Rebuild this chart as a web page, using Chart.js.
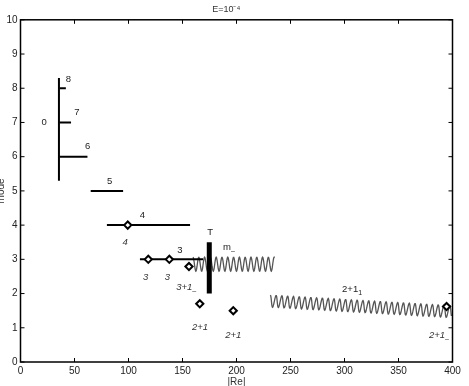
<!DOCTYPE html>
<html>
<head>
<meta charset="utf-8">
<script src="https://cdn.jsdelivr.net/npm/chart.js@4/dist/chart.umd.min.js"></script>
<style>
html, body { margin: 0; padding: 0; background: #fff; }
#wrap { width: 469px; height: 386px; }
</style>
</head>
<body>
<div id="wrap"><canvas id="chart"></canvas></div>
<script>
// horizontal mode segments
const segY  = [8, 7, 6, 5, 4, 3];
const segX1 = [36, 36, 36, 65, 80, 110.6];
const segX2 = [42, 46.8, 62, 95, 157, 169];

// vertical bars (mode 0 stem, T)
const barX  = [35.6, 174.8];
const barY1 = [5.3, 2.0];
const barY2 = [8.3, 3.5];

// diamond points
const diaX = [99.3, 118.3, 137.8, 156, 166, 197, 394.5];
const diaY = [4, 3, 3, 2.79, 1.7, 1.5, 1.62];

// wavy branches: start / end of centre line
const waveX1 = [159.7, 231];
const waveY1 = [2.86, 1.78];
const waveX2 = [235.6, 399.5];
const waveY2 = [2.86, 1.47];

// upright annotations ("_" marks a subscript)
const tagText = ['0', '8', '7', '6', '5', '4', '3', 'T', 'm_\u2013', '2+1_1'];
const tagX    = [22, 44.3, 52.3, 62.2, 82.6, 112.8, 147.7, 175.5, 193, 307];
const tagY    = [7.0, 8.27, 7.3, 6.3, 5.29, 4.28, 3.27, 3.78, 3.35, 2.13];

// italic annotations
const itText = ['4', '3', '3', '3+1_\u2013', '2+1', '2+1', '2+1_\u2013'];
const itX    = [96.8, 115.9, 135.9, 153.4, 166.2, 197, 387.4];
const itY    = [3.49, 2.48, 2.48, 2.18, 1.01, 0.79, 0.79];

Chart.defaults.font.family = "'Liberation Sans', Arial, sans-serif";
Chart.defaults.color = '#222';

var datasets = [];

// diamonds first so they sit on top
datasets.push({
    type: 'scatter',
    data: diaX.map((x, i) => ({x: x, y: diaY[i]})),
    pointStyle: 'rectRot',
    pointRadius: 3.6,
    borderWidth: 2,
    borderColor: '#000',
    backgroundColor: '#fff'
});

segY.forEach((y, i) => {
    datasets.push({
        type: 'line',
        data: [{x: segX1[i], y: y}, {x: segX2[i], y: y}],
        borderColor: '#000',
        borderWidth: 2,
        pointRadius: 0
    });
});

var barWidth = [2, 5];
barX.forEach((x, i) => {
    datasets.push({
        type: 'line',
        data: [{x: x, y: barY1[i]}, {x: x, y: barY2[i]}],
        borderColor: '#000',
        borderWidth: barWidth[i],
        borderCapStyle: 'butt',
        pointRadius: 0
    });
});

var waveAmp = [7, 6];
waveX1.forEach((x, i) => {
    datasets.push({
        type: 'line',
        data: [{x: x, y: waveY1[i]}, {x: waveX2[i], y: waveY2[i]}],
        showLine: false,
        pointRadius: 0,
        wave: {amp: waveAmp[i], len: 5.8}
    });
});

// draws the wavy branches along their centre line
const wavePlugin = {
    id: 'wave',
    beforeDatasetsDraw(chart) {
        const ctx = chart.ctx;
        chart.data.datasets.forEach((ds, i) => {
            if (!ds.wave) return;
            const pts = chart.getDatasetMeta(i).data;
            const p0 = pts[0], p1 = pts[1];
            const dx = p1.x - p0.x, dy = p1.y - p0.y;
            const L = Math.hypot(dx, dy);
            const ux = dx / L, uy = dy / L;
            ctx.save();
            ctx.beginPath();
            for (let s = 0; s <= L; s += 0.4) {
                const off = -ds.wave.amp * Math.cos(2 * Math.PI * s / ds.wave.len);
                const px = p0.x + ux * s - uy * off;
                const py = p0.y + uy * s + ux * off;
                if (s === 0) ctx.moveTo(px, py); else ctx.lineTo(px, py);
            }
            ctx.strokeStyle = '#555';
            ctx.lineWidth = 1.3;
            ctx.stroke();
            ctx.restore();
        });
    }
};

function drawTag(ctx, text, x, y, style) {
    const parts = text.split('_');
    ctx.font = style + "9.5px 'Liberation Sans', Arial, sans-serif";
    const w0 = ctx.measureText(parts[0]).width;
    let w1 = 0;
    if (parts[1]) {
        ctx.font = style + "7px 'Liberation Sans', Arial, sans-serif";
        w1 = ctx.measureText(parts[1]).width;
    }
    const left = x - (w0 + w1) / 2;
    ctx.textAlign = 'left';
    ctx.font = style + "9.5px 'Liberation Sans', Arial, sans-serif";
    ctx.fillText(parts[0], left, y);
    if (parts[1]) {
        ctx.font = style + "7px 'Liberation Sans', Arial, sans-serif";
        ctx.fillText(parts[1], left + w0, y + 4);
    }
}

// text labels placed in data coordinates
const labelPlugin = {
    id: 'labels',
    afterDatasetsDraw(chart) {
        const ctx = chart.ctx;
        const xs = chart.scales.x, ys = chart.scales.y;
        ctx.save();
        ctx.textBaseline = 'middle';
        ctx.fillStyle = '#222';
        tagText.forEach((t, i) => {
            drawTag(ctx, t, xs.getPixelForValue(tagX[i]), ys.getPixelForValue(tagY[i]), '');
        });
        ctx.fillStyle = '#333';
        itText.forEach((t, i) => {
            drawTag(ctx, t, xs.getPixelForValue(itX[i]), ys.getPixelForValue(itY[i]), 'italic ');
        });
        ctx.restore();
    }
};

// box frame with inward ticks on all four sides
const framePlugin = {
    id: 'frame',
    afterDraw(chart) {
        const ctx = chart.ctx;
        const a = chart.chartArea;
        const xs = chart.scales.x, ys = chart.scales.y;
        const tl = 4;
        ctx.save();
        ctx.strokeStyle = '#000';
        ctx.lineWidth = 1;
        ctx.beginPath();
        xs.ticks.forEach(t => {
            const px = xs.getPixelForValue(t.value);
            ctx.moveTo(px, a.bottom); ctx.lineTo(px, a.bottom - tl);
            ctx.moveTo(px, a.top); ctx.lineTo(px, a.top + tl);
        });
        ys.ticks.forEach(t => {
            const py = ys.getPixelForValue(t.value);
            ctx.moveTo(a.left, py); ctx.lineTo(a.left + tl, py);
            ctx.moveTo(a.right, py); ctx.lineTo(a.right - tl, py);
        });
        ctx.stroke();
        ctx.lineWidth = 1.5;
        ctx.strokeRect(a.left, a.top, a.right - a.left, a.bottom - a.top);
        ctx.restore();
    }
};

new Chart(document.getElementById('chart'), {
    type: 'line',
    data: {datasets: datasets},
    options: {
        responsive: true,
        maintainAspectRatio: false,
        animation: false,
        layout: {padding: {left: 0, right: 16.5, top: 0, bottom: 0}},
        plugins: {
            legend: {display: false},
            tooltip: {enabled: false},
            title: {
                display: true,
                text: 'E=10\u207B\u2074',
                color: '#333',
                font: {size: 9, weight: 'normal'},
                padding: {top: 4, bottom: 5}
            }
        },
        scales: {
            x: {
                type: 'linear',
                min: 0, max: 400,
                ticks: {stepSize: 50, padding: 3, font: {size: 10}, color: '#222'},
                grid: {display: false, drawTicks: false},
                border: {display: false},
                title: {display: true, text: '|Re|', font: {size: 10}, color: '#333', padding: {top: 0, bottom: -2}},
                afterFit: s => { s.height = 24; }
            },
            y: {
                type: 'linear',
                min: 0, max: 10,
                ticks: {stepSize: 1, padding: 3, font: {size: 10}, color: '#222'},
                grid: {display: false, drawTicks: false},
                border: {display: false},
                title: {display: true, text: 'mode', font: {size: 10}, color: '#333', padding: {top: -4.5, bottom: 0}},
                afterFit: s => { s.width = 20.5; }
            }
        }
    },
    plugins: [wavePlugin, labelPlugin, framePlugin]
});
</script>
</body>
</html>
